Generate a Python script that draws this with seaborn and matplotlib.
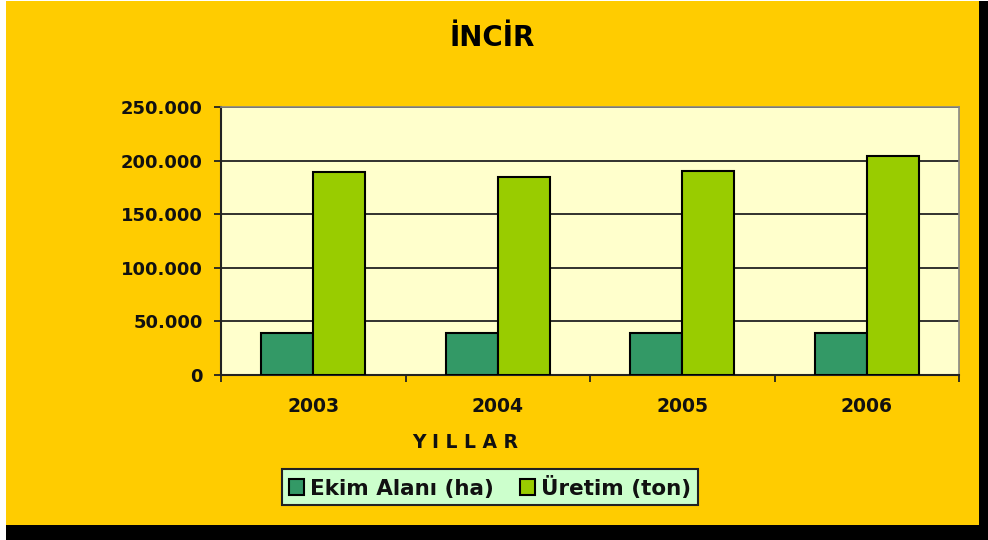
import matplotlib
matplotlib.use("Agg")
import matplotlib.pyplot as plt
import seaborn as sns
import pandas as pd
from matplotlib.patches import Rectangle

years = ["2003", "2004", "2005", "2006"]
ekim_alani = [38800, 38800, 38800, 38800]
uretim = [189100, 184800, 190700, 204700]
series_names = ["Ekim Alanı (ha)", "Üretim (ton)"]
y_ticks = [0, 50000, 100000, 150000, 200000, 250000]
y_tick_labels = ["0", "50.000", "100.000", "150.000", "200.000", "250.000"]
title = "İNCİR"
x_title = "Y I L L A R"

df = pd.DataFrame({
    "Yıl": years * 2,
    "Seri": [series_names[0]] * len(years) + [series_names[1]] * len(years),
    "Değer": ekim_alani + uretim,
})

sns.set_theme(style="white")
plt.rcParams["font.family"] = ["DejaVu Sans"]

W, H = 988, 540
fig = plt.figure(figsize=(W / 100, H / 100), dpi=100)
fig.patch.set_facecolor("white")
# shadow and background
fig.add_artist(Rectangle((6 / W, 0), 1 - 6 / W, 539 / H, transform=fig.transFigure,
                         facecolor="black", edgecolor="none", zorder=-10))
fig.add_artist(Rectangle((6 / W, 15 / H), (979 - 6) / W, 524 / H, transform=fig.transFigure,
                         facecolor="#FFCC00", edgecolor="none", zorder=-9))

ax = fig.add_axes([221 / W, 1 - 375 / H, (959 - 221) / W, (375 - 107) / H])
ax.set_facecolor("#FFFFCC")

sns.barplot(data=df, x="Yıl", y="Değer", hue="Seri", order=years, hue_order=series_names,
            palette=["#339966", "#99CC00"], width=0.564, gap=0, edgecolor="black",
            linewidth=1.5, saturation=1, ax=ax, legend=True, zorder=3)

ax.set_ylim(0, 250000)
ax.set_xlim(-0.5, 3.5)
ax.set_yticks(y_ticks)
ax.set_yticklabels(y_tick_labels, fontsize=13, fontweight="bold", color="#111111")
ax.yaxis.grid(True, color="#222222", linewidth=1.3, zorder=1)
ax.set_axisbelow(True)
ax.tick_params(axis="y", direction="out", length=5, width=1.3, color="#222222", pad=8, left=True)

ax.set_xticks(range(len(years)))
ax.set_xticklabels(years, fontsize=13.5, fontweight="bold", color="#111111")
ax.set_xticks([-0.5, 0.5, 1.5, 2.5, 3.5], minor=True)
ax.tick_params(axis="x", which="major", length=0, pad=16)
ax.tick_params(axis="x", which="minor", direction="out", length=5, width=1.3, color="#222222", bottom=True)

ax.set_xlabel(x_title, fontsize=13.5, fontweight="bold", color="#111111")
ax.xaxis.set_label_coords((465 - 221) / (959 - 221), -(442 - 375) / (375 - 107))
ax.xaxis.label.set_va("center")
ax.set_ylabel("")

for s in ["left", "bottom"]:
    ax.spines[s].set_color("#222222")
    ax.spines[s].set_linewidth(1.5)
for s in ["top", "right"]:
    ax.spines[s].set_color("#888888")
    ax.spines[s].set_linewidth(1.2)

handles, labels = ax.get_legend_handles_labels()
ax.get_legend().remove()
leg = fig.legend(handles, labels, loc="center", bbox_to_anchor=(490 / W, 1 - 487 / H),
                 ncol=2, frameon=True, fancybox=False, facecolor="#CCFFCC", edgecolor="#222222",
                 framealpha=1, prop={"size": 15.5, "weight": "bold"}, handlelength=0.7,
                 handleheight=0.7, handletextpad=0.3, columnspacing=1.2,
                 borderpad=0.3)
leg.get_frame().set_linewidth(1.5)
for t in leg.get_texts():
    t.set_color("#111111")

fig.text(492 / W, 1 - 38 / H, title, ha="center", va="center", fontsize=20,
         fontweight="bold", color="black")

fig.savefig("out.png", dpi=100, facecolor=fig.get_facecolor())
